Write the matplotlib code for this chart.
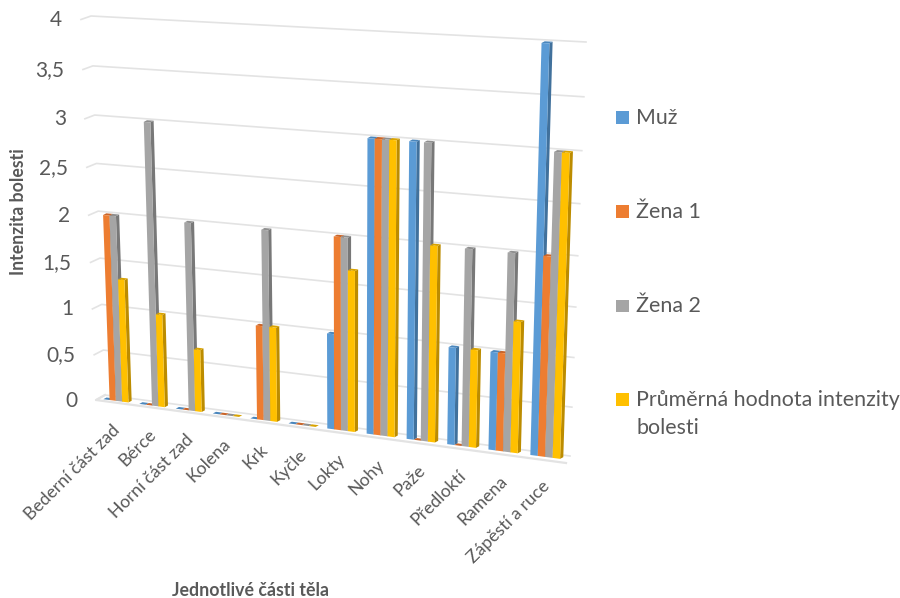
import numpy as np
import matplotlib
matplotlib.use("Agg")
import matplotlib.pyplot as plt
from matplotlib.collections import PolyCollection
from matplotlib.patches import Rectangle
from matplotlib.transforms import Transform

plt.rcParams['font.family'] = ['Lato', 'DejaVu Sans']

categories = ["Bederní část zad", "Bérce", "Horní část zad", "Kolena", "Krk", "Kyčle",
              "Lokty", "Nohy", "Paže", "Předloktí", "Ramena", "Zápěstí a ruce"]
muz = [0, 0, 0, 0, 0, 0, 1, 3, 3, 1, 1, 4]
zena1 = [2, 0, 0, 0, 1, 0, 2, 3, 0, 0, 1, 2]
zena2 = [2, 3, 2, 0, 2, 0, 2, 3, 3, 2, 2, 3]
prumer = [1.33, 1, 0.67, 0, 1, 0, 1.67, 3, 2, 1, 1.33, 3]
series_names = ["Muž", "Žena 1", "Žena 2", "Průměrná hodnota intenzity\nbolesti"]
y_ticks = [0, 0.5, 1, 1.5, 2, 2.5, 3, 3.5, 4]
y_labels = ["0", "0,5", "1", "1,5", "2", "2,5", "3", "3,5", "4"]

colors = ["#5B9BD5", "#ED7D31", "#A5A5A5", "#FFC000"]
top_colors = ["#4A86BC", "#C9652A", "#8F8F8F", "#D9A300"]
side_colors = ["#41719C", "#AE5A21", "#787878", "#BC8C00"]
text_color = "#595959"
grid_color = "#E3E3E3"

BAR_W = 0.175
U_MIN, U_MAX = -0.5, 11.5
V_MIN, V_MAX = 0, 4


# maps (category, value) to pixels, the chart is tilted so this is a plane homography
class PlanePerspective(Transform):
    input_dims = 2
    output_dims = 2
    is_separable = False
    has_inverse = False

    def __init__(self, bottom_left, top_left, bottom_right, top_right):
        super().__init__()
        src = [(U_MIN, V_MIN), (U_MIN, V_MAX), (U_MAX, V_MIN), (U_MAX, V_MAX)]
        dst = [bottom_left, top_left, bottom_right, top_right]
        a, b = [], []
        for (u, v), (x, y) in zip(src, dst):
            a.append([u, v, 1, 0, 0, 0, -u * x, -v * x])
            a.append([0, 0, 0, u, v, 1, -u * y, -v * y])
            b += [x, y]
        self.h = np.append(np.linalg.solve(np.array(a, float), np.array(b, float)), 1).reshape(3, 3)

    def transform_non_affine(self, values):
        pts = np.column_stack([values, np.ones(len(values))]) @ self.h.T
        return pts[:, :2] / pts[:, 2:]


def shifted(corners, dx, dy):
    return [(x + dx, y + dy) for x, y in corners]


# back wall, front face of the bars, back face of the bars and the front edge of the floor
wall = PlanePerspective((105, 395), (91, 16), (570, 456), (586, 42))
bar_corners = [(98, 398.5), (84, 19), (566.5, 459.7), (580, 45)]
front = PlanePerspective(*bar_corners)
back = PlanePerspective(*shifted(bar_corners, 3.2, -1.7))
edge = PlanePerspective((96, 400), (81, 19.5), (566, 463), (580, 50))

fig = plt.figure(figsize=(9, 5.98), dpi=100)
ax = fig.add_axes([0, 0, 1, 1])
ax.set_xlim(0, 900)
ax.set_ylim(598, 0)
ax.set_autoscale_on(False)
ax.axis("off")

# gridlines on the wall and the short bit running forward on the left
for tick, label in zip(y_ticks, y_labels):
    wall_l, wall_r = wall.transform([(U_MIN, tick), (U_MAX, tick)])
    edge_l = edge.transform([(U_MIN, tick)])[0]
    ax.plot([edge_l[0], wall_l[0], wall_r[0]], [edge_l[1], wall_l[1], wall_r[1]],
            color=grid_color, lw=1.2, zorder=1)
    ax.text(edge_l[0] - 19, edge_l[1] + 0.5, label, ha="right", va="center",
            fontsize=15, color=text_color)

# floor edge
floor_l, floor_r = edge.transform([(U_MIN, 0), (U_MAX, 0)])
wall_l = wall.transform([(U_MIN, 0)])[0]
ax.plot([wall_l[0], floor_l[0], floor_r[0]], [wall_l[1], floor_l[1], floor_r[1]],
        color=grid_color, lw=1.6, zorder=1)

x = np.arange(len(categories))
for i, values in enumerate([muz, zena1, zena2, prumer]):
    left = x + (i - 2) * BAR_W
    right = left + BAR_W
    heights = np.array(values, float)
    zero = np.zeros(len(x))
    sides = np.stack([front.transform(np.column_stack([right, zero])),
                      front.transform(np.column_stack([right, heights])),
                      back.transform(np.column_stack([right, heights])),
                      back.transform(np.column_stack([right, zero]))], axis=1)
    tops = np.stack([front.transform(np.column_stack([left, heights])),
                     front.transform(np.column_stack([right, heights])),
                     back.transform(np.column_stack([right, heights])),
                     back.transform(np.column_stack([left, heights]))], axis=1)
    ax.add_collection(PolyCollection(sides, facecolors=side_colors[i], edgecolors="none", zorder=3 + i))
    ax.add_collection(PolyCollection(tops, facecolors=top_colors[i], edgecolors="none", zorder=3 + i))
    ax.bar(left, heights, BAR_W, align="edge", color=colors[i], linewidth=0,
           transform=front + ax.transData, zorder=3.5 + i)

# category labels under the floor
anchors = front.transform(np.column_stack([x, np.zeros(len(x))]))
for name, (ax_x, ax_y) in zip(categories, anchors):
    ax.text(ax_x - 4, ax_y + 21, name, rotation=45, rotation_mode="anchor", ha="right", va="top",
            fontsize=12.7, color=text_color)

ax.text(19, 212, "Intenzita bolesti", rotation=90, ha="center", va="center",
        fontsize=12.7, fontweight="bold", color=text_color)
ax.text(251, 591, "Jednotlivé části těla", ha="center", va="center",
        fontsize=12.8, fontweight="bold", color=text_color)

# legend on the right
legend_y = [117, 211, 305.5, 399]
for name, color, y in zip(series_names, colors, legend_y):
    ax.add_patch(Rectangle((616, y - 6), 13, 12.5, facecolor=color, edgecolor="none"))
    ax.text(636, y - 9.5, name, ha="left", va="top", fontsize=15.4, color=text_color, linespacing=1.55)

fig.savefig("out.png", dpi=100)
